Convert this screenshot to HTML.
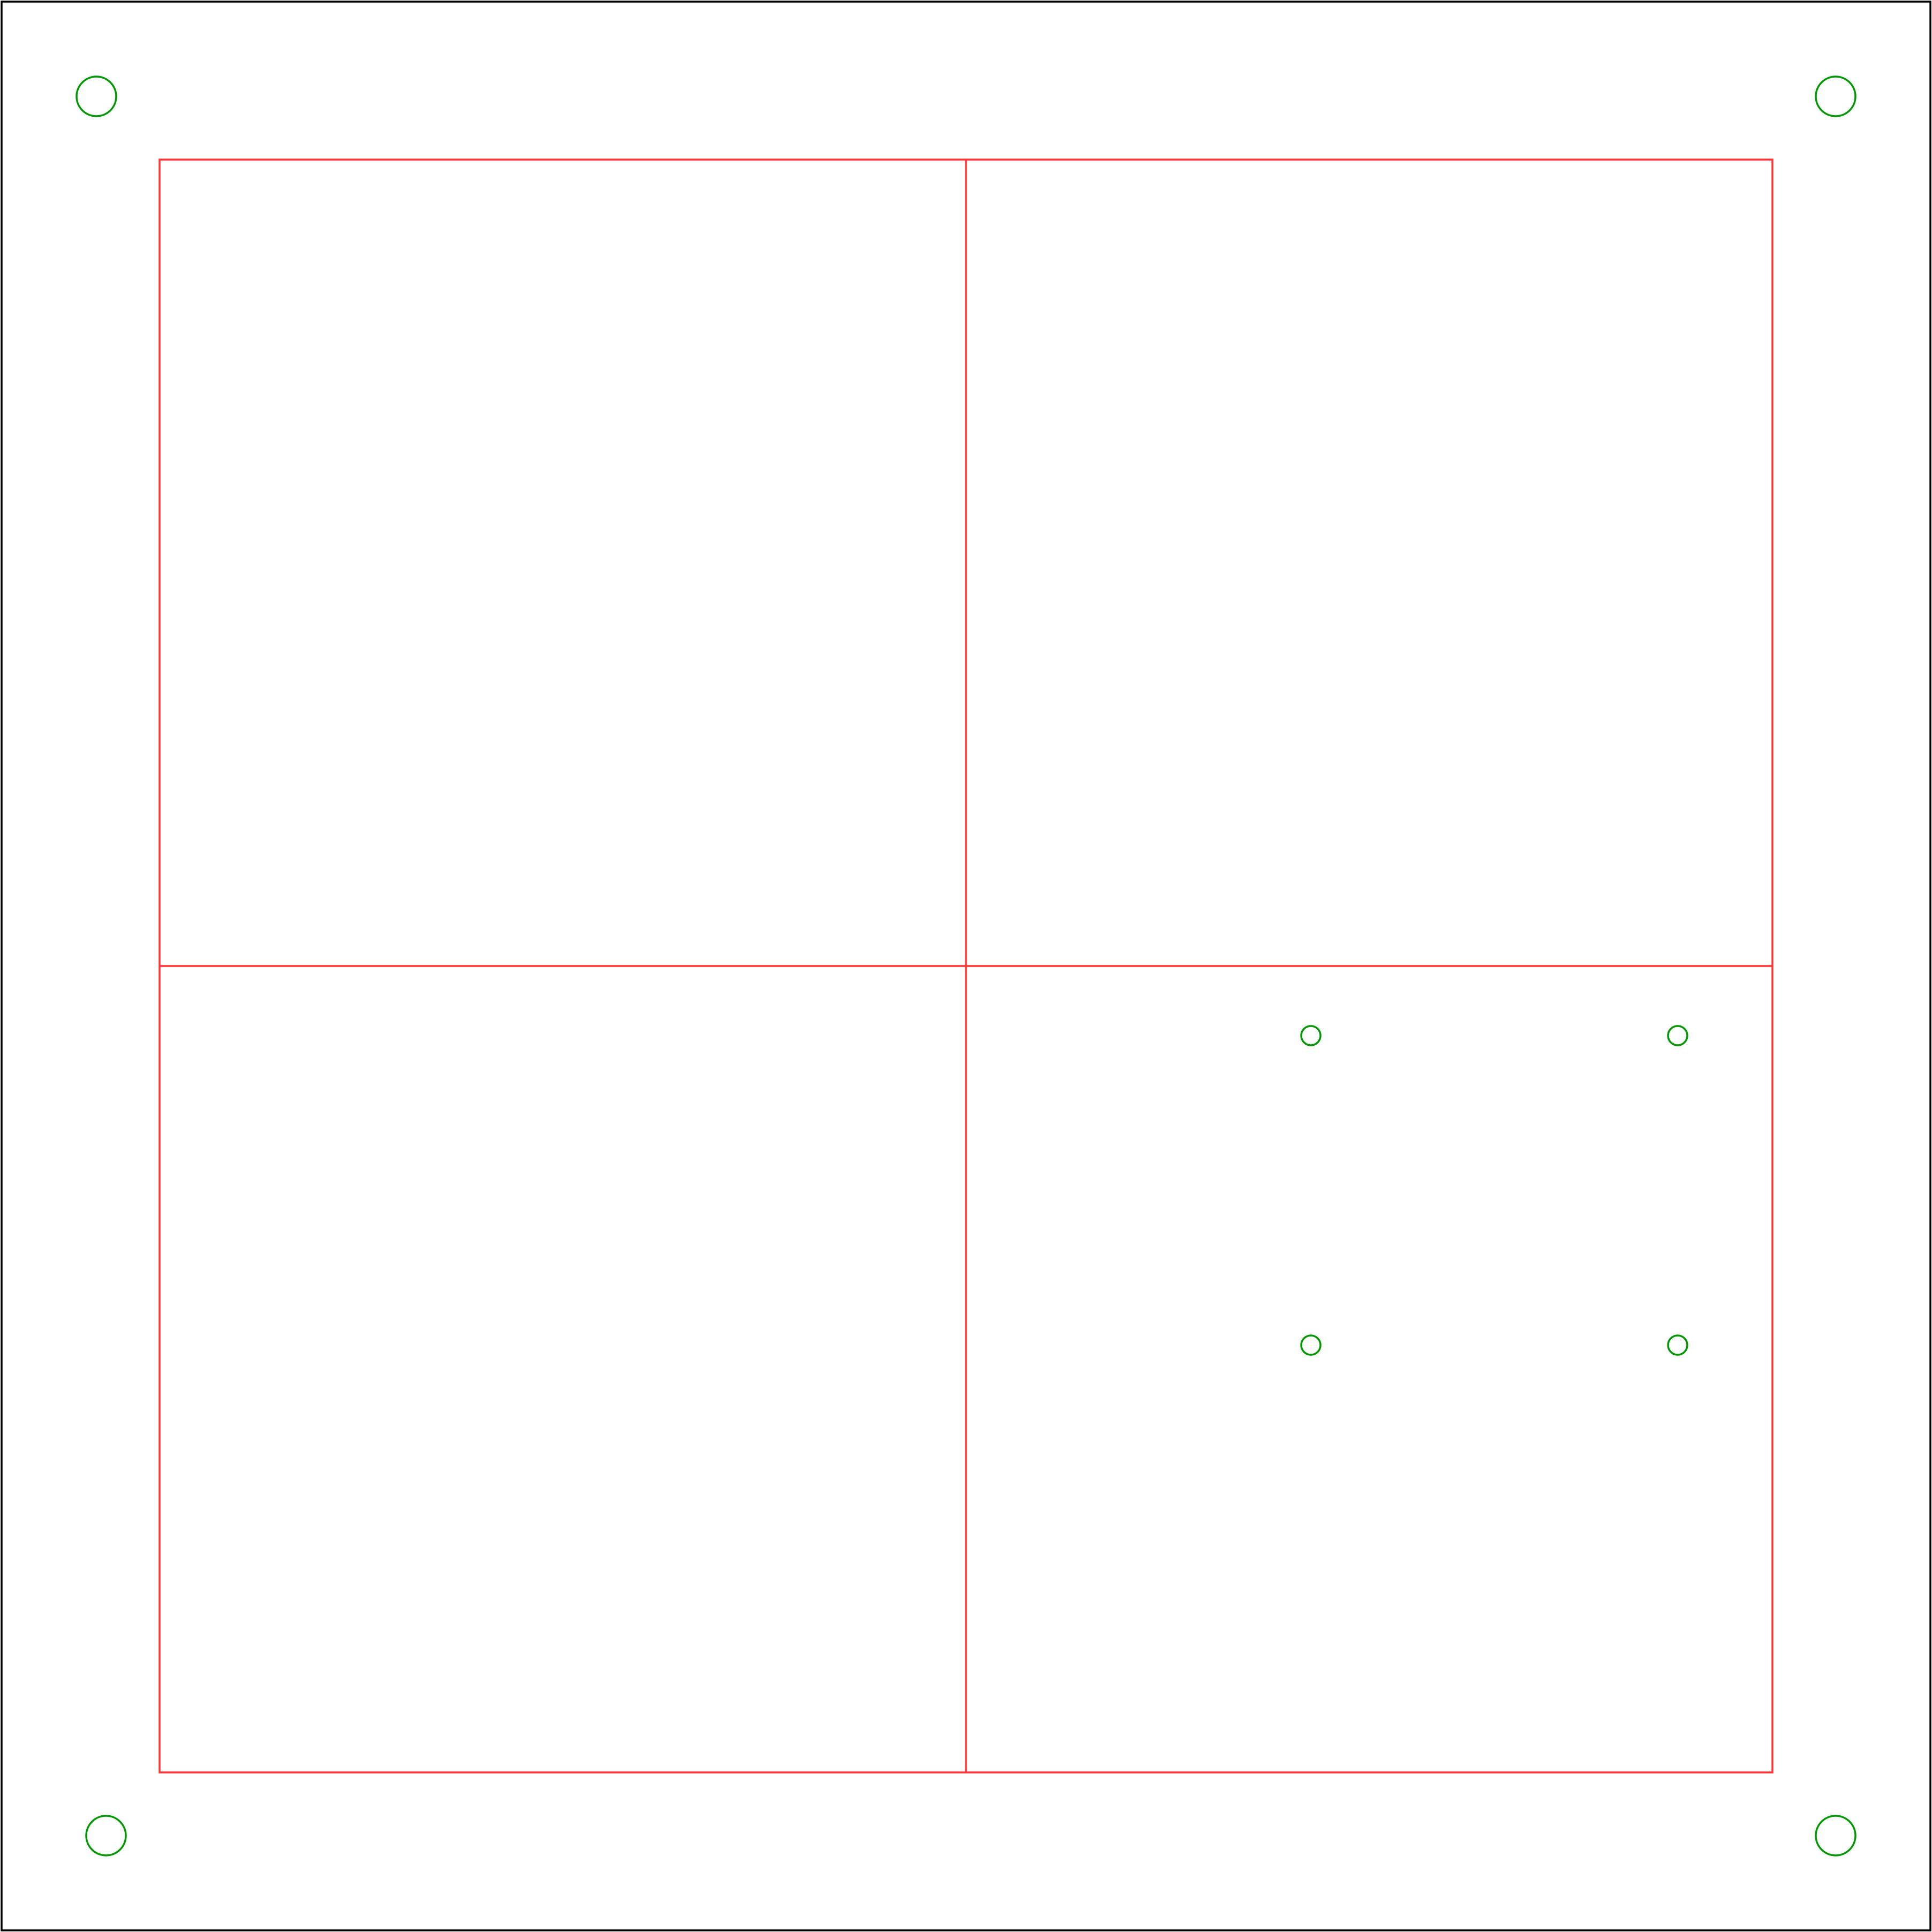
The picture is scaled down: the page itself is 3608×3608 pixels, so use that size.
<!DOCTYPE html>
<html><head><meta charset="utf-8"><style>html,body{margin:0;padding:0;background:#fff}svg{display:block}</style></head>
<body>
<svg width="3608" height="3608" viewBox="0 0 3608 3608" xmlns="http://www.w3.org/2000/svg">
<rect x="3" y="3" width="3602" height="3602" fill="#fff" stroke="#000" stroke-width="3.5"/>
<g fill="none" stroke="#ff3333" stroke-width="3.5">
<rect x="298" y="298" width="3012" height="3012"/>
<line x1="1804" y1="298" x2="1804" y2="3310"/>
<line x1="298" y1="1804" x2="3310" y2="1804"/>
</g>
<g fill="none" stroke="#009900" stroke-width="3.5">
<circle cx="180" cy="180" r="37"/>
<circle cx="3428" cy="180" r="37"/>
<circle cx="198" cy="3428" r="37"/>
<circle cx="3428" cy="3428" r="37"/>
<circle cx="2448" cy="1934" r="18"/>
<circle cx="3133" cy="1934" r="18"/>
<circle cx="2448" cy="2512" r="18"/>
<circle cx="3133" cy="2512" r="18"/>
</g>
</svg>
</body></html>
